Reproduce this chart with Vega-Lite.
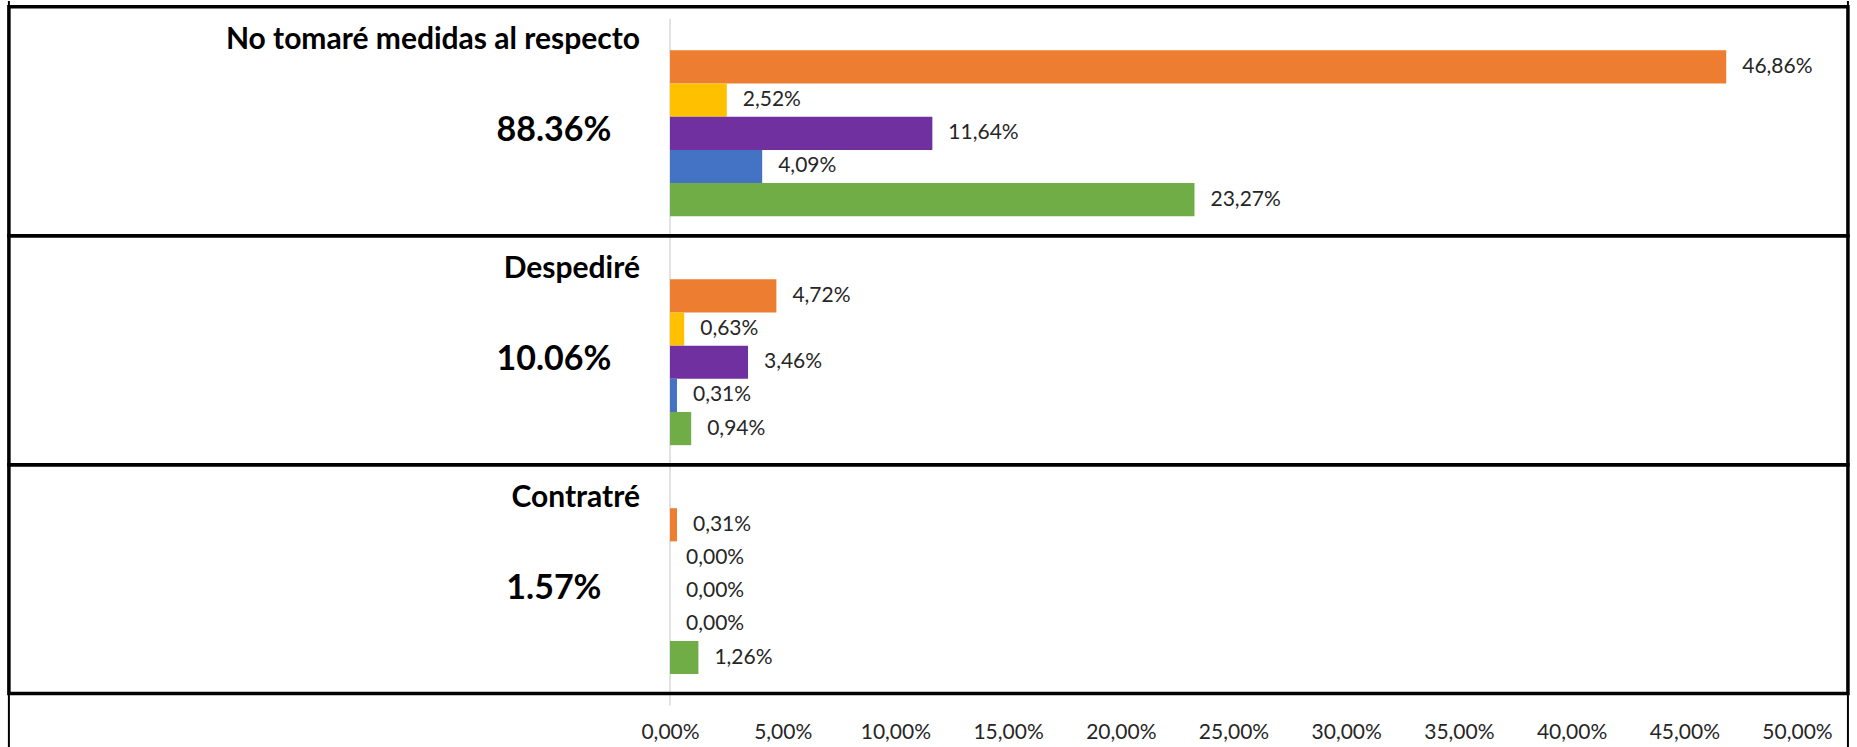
{
  "$schema": "https://vega.github.io/schema/vega-lite/v6.json",
  "width": 1857,
  "height": 747,
  "padding": 0,
  "background": "white",
  "config": {
    "view": {"stroke": null},
    "font": "Lato",
    "locale": {"number": {"decimal": ",", "thousands": ".", "grouping": [3], "currency": ["", " €"]}}
  },
  "datasets": {
    "bars": [
      {"category": "No tomaré medidas al respecto", "series": "Serie 1", "value": 0.4686},
      {"category": "No tomaré medidas al respecto", "series": "Serie 2", "value": 0.0252},
      {"category": "No tomaré medidas al respecto", "series": "Serie 3", "value": 0.1164},
      {"category": "No tomaré medidas al respecto", "series": "Serie 4", "value": 0.0409},
      {"category": "No tomaré medidas al respecto", "series": "Serie 5", "value": 0.2327},
      {"category": "Despediré", "series": "Serie 1", "value": 0.0472},
      {"category": "Despediré", "series": "Serie 2", "value": 0.0063},
      {"category": "Despediré", "series": "Serie 3", "value": 0.0346},
      {"category": "Despediré", "series": "Serie 4", "value": 0.0031},
      {"category": "Despediré", "series": "Serie 5", "value": 0.0094},
      {"category": "Contratré", "series": "Serie 1", "value": 0.0031},
      {"category": "Contratré", "series": "Serie 2", "value": 0.0},
      {"category": "Contratré", "series": "Serie 3", "value": 0.0},
      {"category": "Contratré", "series": "Serie 4", "value": 0.0},
      {"category": "Contratré", "series": "Serie 5", "value": 0.0126}
    ],
    "cats": [
      {"category": "No tomaré medidas al respecto", "total": "88.36%"},
      {"category": "Despediré", "total": "10.06%"},
      {"category": "Contratré", "total": "1.57%"}
    ]
  },
  "layer": [
    {
      "data": {"name": "cats"},
      "mark": {"type": "rule", "color": "#d9d9d9", "strokeWidth": 1.5},
      "encoding": {
        "x": {"datum": 0},
        "y": {"field": "category", "type": "nominal", "sort": null, "axis": null, "bandPosition": 0},
        "y2": {"field": "category", "bandPosition": 1}
      }
    },
    {
      "data": {"name": "bars"},
      "mark": {"type": "bar"},
      "encoding": {
        "x": {
          "field": "value", "type": "quantitative",
          "scale": {"domain": [-0.29725, 0.52662], "nice": false, "zero": false},
          "axis": {
            "values": [0, 0.05, 0.1, 0.15, 0.2, 0.25, 0.3, 0.35, 0.4, 0.45, 0.5],
            "format": ".2%", "grid": false, "domain": false, "ticks": false,
            "labelPadding": 0, "offset": -16, "labelBaseline": "middle",
            "labelFontSize": 21, "labelFont": "Lato", "labelColor": "#262626",
            "title": null, "labelFlush": false, "labelOverlap": false
          }
        },
        "y": {
          "field": "category", "type": "nominal", "sort": null,
          "scale": {"type": "band", "paddingInner": 0, "paddingOuter": 0.1315, "align": 0.296},
          "axis": null
        },
        "yOffset": {
          "field": "series", "type": "nominal", "sort": null,
          "scale": {"paddingInner": 0, "paddingOuter": 0.95}
        },
        "color": {
          "field": "series", "type": "nominal", "sort": null,
          "scale": {"domain": ["Serie 1", "Serie 2", "Serie 3", "Serie 4", "Serie 5"], "range": ["#ED7D31", "#FFC000", "#7030A0", "#4472C4", "#70AD47"]},
          "legend": null
        }
      }
    },
    {
      "data": {"name": "bars"},
      "mark": {"type": "text", "align": "left", "baseline": "middle", "dx": 16, "fontSize": 21, "font": "Lato", "color": "#262626"},
      "encoding": {
        "x": {"field": "value", "type": "quantitative"},
        "y": {"field": "category", "type": "nominal", "sort": null, "axis": null},
        "yOffset": {"field": "series", "type": "nominal", "sort": null},
        "text": {"field": "value", "type": "quantitative", "format": ".2%"}
      }
    },
    {
      "data": {"name": "cats"},
      "mark": {"type": "rect", "fill": null, "fillOpacity": 0, "stroke": "black", "strokeWidth": 3.5, "yOffset": -12, "y2Offset": -12},
      "encoding": {
        "x": {"datum": -0.2933},
        "x2": {"datum": 0.5226},
        "y": {"field": "category", "type": "nominal", "sort": null, "axis": null}
      }
    },
    {
      "data": {"values": [{}]},
      "mark": {"type": "rule", "color": "black", "strokeWidth": 2},
      "encoding": {"x": {"datum": -0.2933}}
    },
    {
      "data": {"values": [{}]},
      "mark": {"type": "rule", "color": "black", "strokeWidth": 2},
      "encoding": {"x": {"datum": 0.5226}}
    },
    {
      "data": {"name": "cats"},
      "mark": {"type": "text", "align": "right", "baseline": "middle", "fontSize": 30, "fontWeight": "bold", "font": "Lato", "color": "black"},
      "encoding": {
        "x": {"datum": -0.0133},
        "y": {"field": "category", "type": "nominal", "sort": null, "axis": null, "bandPosition": 0.093},
        "text": {"field": "category"}
      }
    },
    {
      "data": {"name": "cats"},
      "mark": {"type": "text", "align": "center", "baseline": "middle", "fontSize": 34, "fontWeight": "bold", "font": "Lato", "color": "black"},
      "encoding": {
        "x": {"datum": -0.0515},
        "y": {"field": "category", "type": "nominal", "sort": null, "axis": null, "bandPosition": 0.49},
        "text": {"field": "total"}
      }
    }
  ]
}
